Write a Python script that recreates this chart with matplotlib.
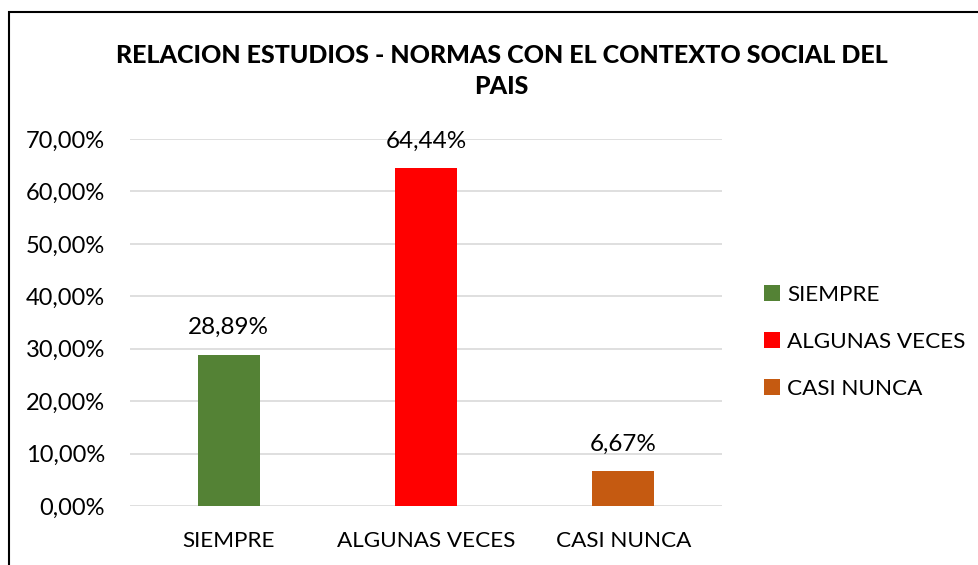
import matplotlib
matplotlib.use("Agg")
import matplotlib.pyplot as plt
from matplotlib.patches import Rectangle, Patch
from matplotlib.ticker import FuncFormatter, MultipleLocator

categories = ["SIEMPRE", "ALGUNAS VECES", "CASI NUNCA"]
values = [28.89, 64.44, 6.67]
colors = ["#548235", "#FF0000", "#C55A11"]
title = "RELACION ESTUDIOS - NORMAS CON EL CONTEXTO SOCIAL DEL\nPAIS"

plt.rcParams['font.family'] = ['Lato', 'DejaVu Sans']

W, H = 979, 565
fig = plt.figure(figsize=(W/100, H/100), dpi=100)

# outer chart frame
fig.patches.append(Rectangle((9/W, -0.1), 1.2, (H-12)/H + 0.1, transform=fig.transFigure,
                             fill=False, edgecolor="black", linewidth=1.5))

ax = fig.add_axes([130/W, 1-506/H, (722-130)/W, (506-139)/H])
x = range(len(categories))
bars = ax.bar(x, values, width=0.315, color=colors, zorder=3)
ax.set_ylim(0, 70)
ax.set_xlim(-0.5, 2.5)
ax.yaxis.set_major_locator(MultipleLocator(10))
ax.yaxis.set_major_formatter(FuncFormatter(lambda v, p: f"{v:.2f}%".replace(".", ",")))
ax.set_xticks(list(x))
ax.set_xticklabels(categories)
ax.grid(axis="y", color="#D9D9D9", linewidth=1.2, zorder=0)
for s in ax.spines.values():
    s.set_visible(False)
ax.tick_params(axis="y", length=0, labelsize=17, colors="#000000", pad=18)
ax.tick_params(axis="x", length=0, labelsize=16.2, colors="#000000", pad=18)

for b, v in zip(bars, values):
    ax.annotate(f"{v:.2f}%".replace(".", ","), (b.get_x()+b.get_width()/2, v),
                xytext=(0, 12), textcoords="offset points", ha="center", va="bottom",
                fontsize=17.5)

fig.text(0.5*(118+885)/W, 1-71/H, title, ha="center", va="center",
         fontsize=18, fontweight="black", linespacing=1.45)

handles = [Patch(facecolor=c, edgecolor="none") for c in colors]
fig.legend(handles, categories, loc="center left", bbox_to_anchor=(744/W, 1-342/H),
           frameon=False, fontsize=16.2, handlelength=0.68, handleheight=0.68,
           labelspacing=1.2, handletextpad=0.33)

fig.savefig("out.png", dpi=100)
